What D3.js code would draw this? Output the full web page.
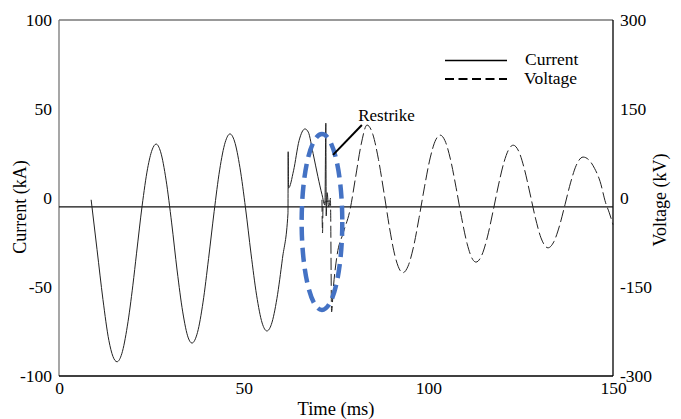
<!DOCTYPE html>
<html lang="en">
<head>
  <meta charset="UTF-8">
  <title>Restrike</title>
  <script src="https://d3js.org/d3.v7.min.js"></script>
  <style>
    body { margin: 0; background: #fff; }
    text { font-family: "Liberation Serif", "Times New Roman", serif; fill: #000; }
  </style>
</head>
<body>
  <div id="canvas"></div>
  <script>
    // tick labels
    const timeTicks = [0, 50, 100, 150];
    const currentTicks = [-100, -50, 0, 50, 100];
    const voltageTicks = [-300, -150, 0, 150, 300];

    // current trace (ms, kA)
    const currentT = [8.7, 10.3, 11.9, 13.5, 14.6, 15.7, 17, 18.5, 20, 21, 22.5, 24, 25.2, 26.3,
      27.5, 29, 30.5, 32, 33.5, 35, 36, 37.5, 39, 40.5, 42, 43.5, 45, 46.3,
      47.5, 49, 50.5, 52, 53.5, 55, 56.3, 57.5, 59, 60.5, 62, 62.05, 62.15, 63.5, 65, 66.6,
      67.5, 68.8, 70.1, 71.2, 72, 72.25, 72.35, 72.6, 73, 73.5];
    const currentKA = [-1, -29, -57, -80, -89, -92, -87.5, -72, -49, -31, -4.5, 16.7, 27, 30.3,
      26, 10, -14, -41, -64, -78.6, -81.5, -75.5, -58.5, -34, -7.7, 15.8, 31.3, 36,
      32, 17, -5.6, -31.4, -54.6, -70.2, -74.7, -71, -56.5, -34, -8.5, 26, 5.6, 15.3, 32.2, 38.8,
      37, 25, 12, 2, -4, 42, -10, 3, -5, 0];

    // voltage trace (ms, kV)
    const voltageT = [71.2, 71.35, 71.5, 73.5, 73.8, 74.3, 75.2, 77, 78.8, 80.3, 81.8, 83.4,
      85, 86.5, 88, 89.5, 91, 93.1, 94.5, 96, 97.5, 99, 100.5, 102, 103.2,
      104.5, 106, 107.5, 109, 110.5, 112, 112.9, 114.5, 116, 117.5, 119, 120.5, 122, 123,
      124.5, 126, 127.5, 129, 130.5, 132.4, 134, 135.5, 137, 138.5, 140, 141.9,
      143.5, 145, 146.5, 148, 149, 150];
    const voltageKV = [-3, -59, -8, -5, -192, -150, -100, -58, -20, 35, 90, 123,
      106.7, 65, 8.6, -50.6, -98.4, -126, -115, -82, -33, 20, 67.5, 98, 106,
      96.7, 65, 18, -33, -77, -103.5, -108, -96, -65.6, -23, 22, 60.7, 84.3, 89,
      78.4, 49, 8.3, -33.8, -67.2, -84, -73.5, -47.2, -11.3, 25.5, 54.4, 69,
      64, 50, 28, -8, -25, -45];

    const zeroLineKA = -5;

    // restrike annotation (ms, kA)
    const restrikeLabel = { text: 'Restrike', t: 81, ka: 46.6 };
    const arrowT = [82, 74.2];
    const arrowKA = [41, 24.2];
    const ellipseC = { t: 71.2, ka: -13.5, rt: 5.5, rka: 49.4 };

    const width = 681;
    const height = 419;
    const plotL = 59, plotR = 613, plotT = 20, plotB = 376;

    const x = d3.scaleLinear().domain([0, 150]).range([plotL, plotR]);
    const yI = d3.scaleLinear().domain([-100, 100]).range([plotB, plotT]);
    const yV = d3.scaleLinear().domain([-300, 300]).range([plotB, plotT]);

    const svg = d3.select('#canvas')
      .append('svg')
      .attr('width', width)
      .attr('height', height);

    // frame
    svg.append('line').attr('x1', plotL).attr('x2', plotR).attr('y1', plotT).attr('y2', plotT)
      .attr('stroke', '#777').attr('stroke-width', 1.3);
    svg.append('line').attr('x1', plotL).attr('x2', plotL).attr('y1', plotT).attr('y2', plotB)
      .attr('stroke', '#777').attr('stroke-width', 1.3);
    svg.append('line').attr('x1', plotR).attr('x2', plotR).attr('y1', plotT).attr('y2', plotB)
      .attr('stroke', '#000').attr('stroke-width', 1.3);
    svg.append('line').attr('x1', plotL).attr('x2', plotR).attr('y1', plotB).attr('y2', plotB)
      .attr('stroke', '#000').attr('stroke-width', 1.3);

    // zero line
    svg.append('line')
      .attr('x1', plotL).attr('x2', plotR)
      .attr('y1', yI(zeroLineKA)).attr('y2', yI(zeroLineKA))
      .attr('stroke', '#111').attr('stroke-width', 1.2);

    // axes (labels only), plain hyphen for negatives
    const fontSize = '17.5px';
    const fmt = d => String(d);
    const xAxis = svg.append('g')
      .attr('transform', 'translate(0,' + (plotB + 6) + ')')
      .call(d3.axisBottom(x).tickValues(timeTicks).tickSize(0).tickFormat(fmt));
    const yAxisL = svg.append('g')
      .attr('transform', 'translate(' + (plotL - 7) + ',0)')
      .call(d3.axisLeft(yI).tickValues(currentTicks).tickSize(0).tickFormat(fmt));
    const yAxisR = svg.append('g')
      .attr('transform', 'translate(' + (plotR + 7) + ',0)')
      .call(d3.axisRight(yV).tickValues(voltageTicks).tickSize(0).tickFormat(fmt));
    [xAxis, yAxisL, yAxisR].forEach(g => {
      g.select('.domain').remove();
      g.selectAll('text')
        .attr('font-family', '"Liberation Serif", "Times New Roman", serif')
        .style('font-size', fontSize)
        .attr('fill', '#000');
    });
    yAxisL.selectAll('text').attr('x', 0);
    yAxisR.selectAll('text').attr('x', 0);
    xAxis.selectAll('text').attr('y', 0).attr('dy', '0.71em');

    // axis titles
    svg.append('text')
      .attr('x', 336)
      .attr('y', 415)
      .attr('text-anchor', 'middle')
      .style('font-size', '18.5px')
      .text('Time (ms)');
    svg.append('text')
      .attr('transform', 'translate(26,' + 207 + ') rotate(-90)')
      .attr('text-anchor', 'middle')
      .style('font-size', '18px')
      .text('Current (kA)');
    svg.append('text')
      .attr('transform', 'translate(666,' + 200 + ') rotate(-90)')
      .attr('text-anchor', 'middle')
      .style('font-size', '18px')
      .text('Voltage (kV)');

    // traces
    const current = currentT.map((t, i) => [t, currentKA[i]]);
    const voltage = voltageT.map((t, i) => [t, voltageKV[i]]);

    svg.append('path')
      .datum(current)
      .attr('fill', 'none')
      .attr('stroke', '#222')
      .attr('stroke-width', 1)
      .attr('d', d3.line().x(d => x(d[0])).y(d => yI(d[1])).curve(d3.curveMonotoneX));

    svg.append('path')
      .datum(voltage)
      .attr('fill', 'none')
      .attr('stroke', '#222')
      .attr('stroke-width', 1)
      .attr('stroke-dasharray', '12,4')
      .attr('d', d3.line().x(d => x(d[0])).y(d => yV(d[1])).curve(d3.curveMonotoneX));

    // restrike marker
    svg.append('ellipse')
      .attr('cx', x(ellipseC.t))
      .attr('cy', yI(ellipseC.ka))
      .attr('rx', x(ellipseC.rt) - x(0))
      .attr('ry', yI(0) - yI(ellipseC.rka))
      .attr('fill', 'none')
      .attr('stroke', '#4472c4')
      .attr('stroke-width', 4.5)
      .attr('stroke-dasharray', '14,7');

    svg.append('line')
      .attr('x1', x(arrowT[0])).attr('y1', yI(arrowKA[0]))
      .attr('x2', x(arrowT[1])).attr('y2', yI(arrowKA[1]))
      .attr('stroke', '#000').attr('stroke-width', 2);

    svg.append('text')
      .attr('x', x(restrikeLabel.t))
      .attr('y', yI(restrikeLabel.ka))
      .attr('dy', '0.35em')
      .style('font-size', '17px')
      .text(restrikeLabel.text);

    // legend
    const legend = svg.append('g').attr('id', 'legend');
    legend.append('line')
      .attr('x1', 445).attr('x2', 507).attr('y1', 60.5).attr('y2', 60.5)
      .attr('stroke', '#000').attr('stroke-width', 1.5);
    legend.append('text')
      .attr('x', 525).attr('y', 59).attr('dy', '0.35em')
      .style('font-size', fontSize)
      .text('Current');
    legend.append('line')
      .attr('x1', 445).attr('x2', 507).attr('y1', 79).attr('y2', 79)
      .attr('stroke', '#000').attr('stroke-width', 2.2)
      .attr('stroke-dasharray', '9,4.5');
    legend.append('text')
      .attr('x', 524).attr('y', 78).attr('dy', '0.35em')
      .style('font-size', fontSize)
      .text('Voltage');
  </script>
</body>
</html>
